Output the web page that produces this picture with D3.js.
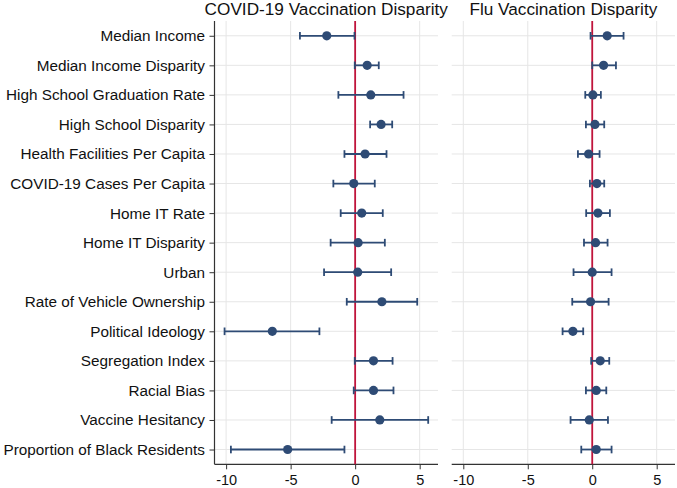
<!DOCTYPE html>
<html>
<head>
<meta charset="utf-8">
<script src="https://cdn.jsdelivr.net/npm/d3@7"></script>
<style>
  html, body { margin: 0; padding: 0; background: #fff; }
  svg { display: block; font-family: "Liberation Sans", Arial, Helvetica, sans-serif; }
</style>
</head>
<body>
<svg id="chart" width="677" height="488"></svg>
<script>
const categories = [
  "Median Income", "Median Income Disparity", "High School Graduation Rate",
  "High School Disparity", "Health Facilities Per Capita", "COVID-19 Cases Per Capita",
  "Home IT Rate", "Home IT Disparity", "Urban", "Rate of Vehicle Ownership",
  "Political Ideology", "Segregation Index", "Racial Bias", "Vaccine Hesitancy",
  "Proportion of Black Residents"
];
const covidEst  = [-2.2, 0.93, 1.21, 2.01, 0.77, -0.11, 0.51, 0.23, 0.2, 2.07, -6.42, 1.42, 1.42, 1.91, -5.23];
const covidLow  = [-4.28, -0.03, -1.3, 1.16, -0.83, -1.69, -1.12, -1.9, -2.41, -0.65, -10.12, -0.03, -0.11, -1.82, -9.63];
const covidHigh = [-0.05, 1.83, 3.75, 2.87, 2.43, 1.52, 2.14, 2.3, 2.79, 4.81, -2.77, 2.9, 2.97, 5.66, -0.83];
const fluEst  = [1.16, 0.88, 0.05, 0.21, -0.28, 0.36, 0.44, 0.26, 0.0, -0.13, -1.5, 0.62, 0.31, -0.23, 0.31];
const fluLow  = [-0.13, 0.0, -0.54, -0.49, -1.11, -0.18, -0.47, -0.64, -1.45, -1.55, -2.3, -0.08, -0.49, -1.68, -0.85];
const fluHigh = [2.43, 1.84, 0.67, 0.93, 0.57, 0.93, 1.37, 1.19, 1.5, 1.27, -0.7, 1.32, 1.09, 1.22, 1.5];
const xTicks = [-10, -5, 0, 5];
const panelTitles = ["COVID-19 Vaccination Disparity", "Flu Vaccination Disparity"];

const svg = d3.select("#chart");
const plotTop = 21, plotBottom = 464.3;
const xDomain = [-10.9, 6.42];
const navy = "#2e4b75", red = "#c0143c", grid = "#e6e6e6", axisCol = "#333";

const y = d3.scalePoint().domain(categories).range([plotTop, plotBottom]).padding(0.5);

const panels = [
  { x0: 214.5, x1: 438, est: covidEst, low: covidLow, high: covidHigh, title: panelTitles[0], yAxis: true },
  { x0: 451.7, x1: 675, est: fluEst, low: fluLow, high: fluHigh, title: panelTitles[1], yAxis: false }
];

panels.forEach(p => {
  const x = d3.scaleLinear().domain(xDomain).range([p.x0, p.x1]);
  const g = svg.append("g");

  // gridlines
  g.selectAll(".vg").data(xTicks).join("line")
    .attr("x1", d => x(d)).attr("x2", d => x(d))
    .attr("y1", plotTop).attr("y2", plotBottom)
    .attr("stroke", grid).attr("stroke-width", 1);
  g.selectAll(".hg").data(categories).join("line")
    .attr("x1", p.x0).attr("x2", p.x1)
    .attr("y1", d => y(d)).attr("y2", d => y(d))
    .attr("stroke", grid).attr("stroke-width", 1);

  // x axis
  const xa = g.append("g").attr("transform", `translate(0,${plotBottom})`)
    .call(d3.axisBottom(x).tickValues(xTicks).tickSize(5).tickPadding(5).tickFormat(d3.format("d")));
  xa.select(".domain").attr("d", `M${p.x0},0H${p.x1}`).attr("stroke", axisCol).attr("stroke-width", 1.2);
  xa.selectAll(".tick line").attr("stroke", axisCol);
  xa.selectAll(".tick text").attr("font-size", "14.5px").attr("fill", "#111")
    .attr("font-family", "'Liberation Sans', Arial, sans-serif").text(d => d < 0 ? "-" + Math.abs(d) : d);

  // y axis
  if (p.yAxis) {
    const ya = g.append("g").attr("transform", `translate(${p.x0},0)`)
      .call(d3.axisLeft(y).tickSize(5).tickPadding(4.5));
    ya.select(".domain").attr("d", `M0,${plotTop}V${plotBottom}`).attr("stroke", axisCol).attr("stroke-width", 1.2);
    ya.selectAll(".tick line").attr("stroke", axisCol);
    ya.selectAll(".tick text").attr("font-size", "15.3px").attr("fill", "#111")
      .attr("font-family", "'Liberation Sans', Arial, sans-serif");
  }

  // reference line at 0
  g.append("line").attr("x1", x(0)).attr("x2", x(0))
    .attr("y1", plotTop).attr("y2", plotBottom)
    .attr("stroke", red).attr("stroke-width", 1.8);

  // CIs
  const ci = g.append("g");
  ci.selectAll(".ci").data(categories).join("line")
    .attr("x1", (d, i) => x(p.low[i])).attr("x2", (d, i) => x(p.high[i]))
    .attr("y1", d => y(d)).attr("y2", d => y(d))
    .attr("stroke", navy).attr("stroke-width", 1.8);
  ci.selectAll(".capl").data(categories).join("line")
    .attr("x1", (d, i) => x(p.low[i])).attr("x2", (d, i) => x(p.low[i]))
    .attr("y1", d => y(d) - 3.8).attr("y2", d => y(d) + 3.8)
    .attr("stroke", navy).attr("stroke-width", 1.8);
  ci.selectAll(".caph").data(categories).join("line")
    .attr("x1", (d, i) => x(p.high[i])).attr("x2", (d, i) => x(p.high[i]))
    .attr("y1", d => y(d) - 3.8).attr("y2", d => y(d) + 3.8)
    .attr("stroke", navy).attr("stroke-width", 1.8);

  // points
  g.selectAll(".pt").data(categories).join("circle")
    .attr("cx", (d, i) => x(p.est[i])).attr("cy", d => y(d))
    .attr("r", 4.6).attr("fill", navy);

  // title
  svg.append("text").attr("x", (p.x0 + p.x1) / 2).attr("y", 15.2)
    .attr("text-anchor", "middle").attr("font-size", "17.2px").attr("fill", "#111")
    .text(p.title);
});
</script>
</body>
</html>
